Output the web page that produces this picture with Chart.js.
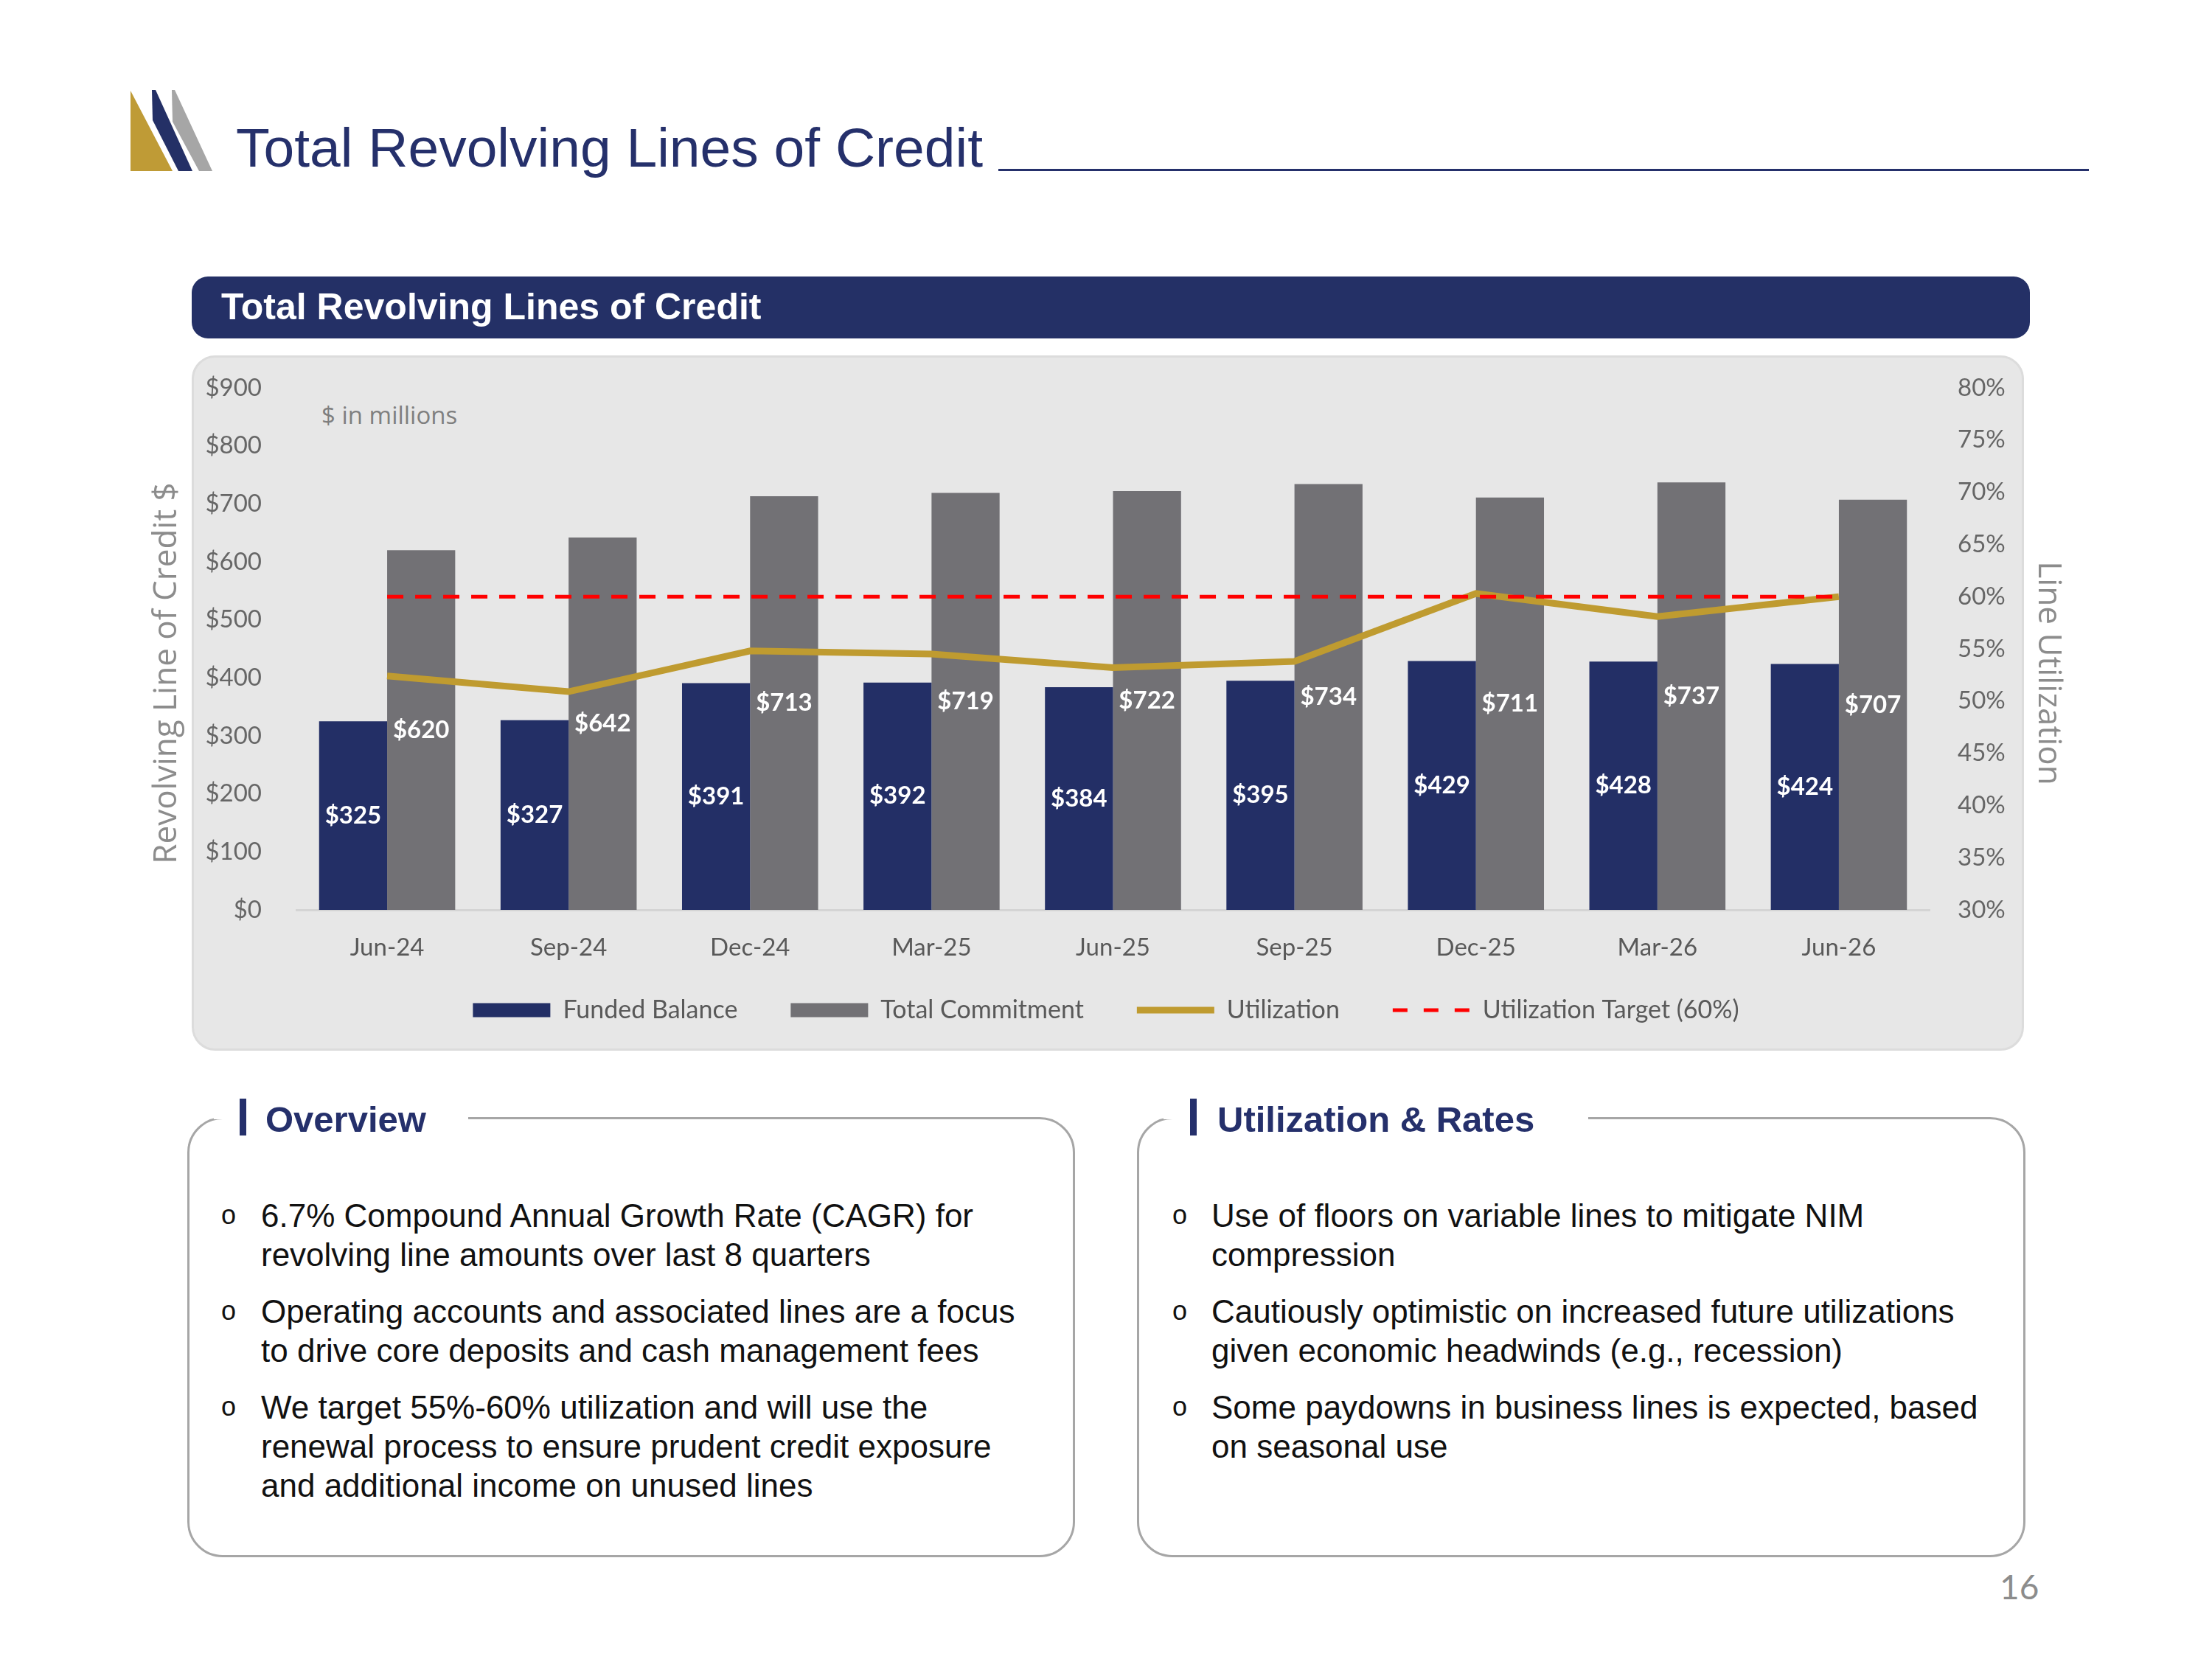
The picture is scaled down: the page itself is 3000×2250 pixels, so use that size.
<!DOCTYPE html>
<html>
<head>
<meta charset="utf-8">
<script src="https://cdn.jsdelivr.net/npm/chart.js@4"></script>
<style>
  html, body { margin: 0; padding: 0; background: #fff; }
  body { width: 3000px; height: 2250px; position: relative; overflow: hidden; font-family: "Liberation Sans", Arial, sans-serif; }
  .abs { position: absolute; }
  #title { left: 320px; top: 163px; font-size: 75px; color: #25306b; white-space: nowrap; line-height: 1; }
  #rule { left: 1354px; top: 229px; width: 1479px; height: 3px; background: #25306b; }
  #banner { left: 260px; top: 375px; width: 2493px; height: 84px; background: #243066; border-radius: 22px; }
  #banner span { position: absolute; left: 40px; top: 16px; font-size: 50px; font-weight: bold; color: #fff; line-height: 1; white-space: nowrap; }
  #panel { left: 260px; top: 482px; width: 2485px; height: 943px; background: #e7e7e7; border-radius: 32px; border: 3px solid #dcdcdc; box-sizing: border-box; }
  #units { left: 436px; top: 540px; font-family: "Open Sans", sans-serif; font-size: 33px; color: #7f7f7f; }
  #chartWrap { left: 180px; top: 482px; width: 2640px; height: 948px; }
  .box { border: 3px solid #a6a6a6; border-radius: 48px; box-sizing: border-box; }
  .gap { background: #fff; height: 10px; }
  .hbar { width: 9px; height: 50px; background: #25306b; }
  .head { font-size: 49px; font-weight: bold; color: #25306b; line-height: 1; white-space: nowrap; }
  .item { font-size: 44px; color: #111; line-height: 53px; }
  .bul { font-size: 36px; color: #111; }
  #page { left: 2712px; top: 2124px; font-family: Lato, sans-serif; font-size: 46px; color: #8c8c8c; }
</style>
</head>
<body>
<svg class="abs" style="left:0;top:0" width="320" height="260">
  <polygon points="177,123 177,232 234,232" fill="#bf9b36"/>
  <polygon points="206,122 211,122 261,232 242,232 207,163" fill="#243066"/>
  <polygon points="233,122 237,122 288,232 270,232 234,165" fill="#a6a6a6"/>
</svg>
<div id="title" class="abs">Total Revolving Lines of Credit</div>
<div id="rule" class="abs"></div>
<div id="banner" class="abs"><span>Total Revolving Lines of Credit</span></div>
<div id="panel" class="abs"></div>
<div id="units" class="abs">$ in millions</div>
<div id="chartWrap" class="abs"><canvas id="revolvingChart"></canvas></div>

<div class="abs box" style="left:254px;top:1515px;width:1204px;height:597px;"></div>
<div class="abs gap" style="left:290px;top:1508px;width:345px;"></div>
<div class="abs hbar" style="left:325px;top:1490px;"></div>
<div class="abs head" style="left:360px;top:1494px;">Overview</div>

<div class="abs box" style="left:1542px;top:1515px;width:1205px;height:597px;"></div>
<div class="abs gap" style="left:1578px;top:1508px;width:576px;"></div>
<div class="abs hbar" style="left:1614px;top:1490px;"></div>
<div class="abs head" style="left:1651px;top:1494px;">Utilization &amp; Rates</div>

<div class="abs bul" style="left:300px;top:1627px;">o</div>
<div class="abs item" style="left:354px;top:1622px;width:1080px;">6.7% Compound Annual Growth Rate (CAGR) for<br>revolving line amounts over last 8 quarters</div>
<div class="abs bul" style="left:300px;top:1757px;">o</div>
<div class="abs item" style="left:354px;top:1752px;width:1080px;">Operating accounts and associated lines are a focus<br>to drive core deposits and cash management fees</div>
<div class="abs bul" style="left:300px;top:1887px;">o</div>
<div class="abs item" style="left:354px;top:1882px;width:1080px;">We target 55%-60% utilization and will use the<br>renewal process to ensure prudent credit exposure<br>and additional income on unused lines</div>

<div class="abs bul" style="left:1590px;top:1627px;">o</div>
<div class="abs item" style="left:1643px;top:1622px;width:1080px;">Use of floors on variable lines to mitigate NIM<br>compression</div>
<div class="abs bul" style="left:1590px;top:1757px;">o</div>
<div class="abs item" style="left:1643px;top:1752px;width:1080px;">Cautiously optimistic on increased future utilizations<br>given economic headwinds (e.g., recession)</div>
<div class="abs bul" style="left:1590px;top:1887px;">o</div>
<div class="abs item" style="left:1643px;top:1882px;width:1080px;">Some paydowns in business lines is expected, based<br>on seasonal use</div>

<div id="page" class="abs">16</div>

<script>
// quarters and values ($ millions, utilization %)
const quarters = ['Jun-24', 'Sep-24', 'Dec-24', 'Mar-25', 'Jun-25', 'Sep-25', 'Dec-25', 'Mar-26', 'Jun-26'];
const fundedBalance = [325, 327, 391, 392, 384, 395, 429, 428, 424];
const totalCommitment = [620, 642, 713, 719, 722, 734, 711, 737, 707];
const utilization = [52.4, 50.9, 54.8, 54.5, 53.2, 53.8, 60.3, 58.1, 60.0];
const utilizationTarget = [60, 60, 60, 60, 60, 60, 60, 60, 60];
const dollarTicks = [0, 100, 200, 300, 400, 500, 600, 700, 800, 900];
const pctTicks = [30, 35, 40, 45, 50, 55, 60, 65, 70, 75, 80];

const NAVY = '#232f66';
const GRAY = '#727175';
const GOLD = '#bf9b30';
const RED = '#ff0000';
const TXT = '#666666';

// white value labels centered in each bar
const barLabels = {
    id: 'barLabels',
    afterDatasetsDraw(chart) {
        const ctx = chart.ctx;
        ctx.save();
        ctx.font = 'bold 33px Lato, sans-serif';
        ctx.fillStyle = '#ffffff';
        ctx.textAlign = 'center';
        ctx.textBaseline = 'middle';
        chart.data.datasets.forEach((ds, di) => {
            if (ds.type !== 'bar') return;
            chart.getDatasetMeta(di).data.forEach((bar, i) => {
                ctx.fillText('$' + ds.data[i], bar.x, (bar.y + bar.base) / 2);
            });
        });
        ctx.restore();
    }
};

// rotated axis titles, sitting a bit below the plot's middle like the original
const axisTitles = {
    id: 'axisTitles',
    afterDraw(chart) {
        const ctx = chart.ctx;
        const a = chart.chartArea;
        const yMid = (a.top + a.bottom) / 2 + 33;
        ctx.save();
        ctx.font = '44px "Open Sans", sans-serif';
        ctx.fillStyle = '#8c8c8c';
        ctx.textAlign = 'center';
        ctx.textBaseline = 'middle';
        ctx.save();
        ctx.translate(46, yMid);
        ctx.rotate(-Math.PI / 2);
        ctx.fillText('Revolving Line of Credit $', 0, 0);
        ctx.restore();
        ctx.translate(2598, yMid);
        ctx.rotate(Math.PI / 2);
        ctx.fillText('Line Utilization', 0, 0);
        ctx.restore();
    }
};

// pull the legend up closer to the category labels
const legendShift = {
    id: 'legendShift',
    afterLayout(chart) {
        const lg = chart.legend;
        const d = lg.top - (chart.chartArea.bottom + 47);
        lg.top -= d;
        lg.bottom -= d;
    }
};

const canvas = document.getElementById('revolvingChart');

new Chart(canvas.getContext('2d'), {
    data: {
        labels: quarters,
        datasets: [
            {
                type: 'line',
                label: 'Utilization Target (60%)',
                data: utilizationTarget,
                yAxisID: 'yPct',
                borderColor: RED,
                backgroundColor: RED,
                borderWidth: 5,
                borderDash: [22, 16],
                pointRadius: 0,
                order: 0
            },
            {
                type: 'line',
                label: 'Utilization',
                data: utilization,
                yAxisID: 'yPct',
                borderColor: GOLD,
                backgroundColor: GOLD,
                borderWidth: 9,
                pointRadius: 0,
                tension: 0,
                order: 1
            },
            {
                type: 'bar',
                label: 'Funded Balance',
                data: fundedBalance,
                yAxisID: 'y',
                backgroundColor: NAVY,
                categoryPercentage: 0.75,
                barPercentage: 1.0,
                order: 3
            },
            {
                type: 'bar',
                label: 'Total Commitment',
                data: totalCommitment,
                yAxisID: 'y',
                backgroundColor: GRAY,
                categoryPercentage: 0.75,
                barPercentage: 1.0,
                order: 3
            }
        ]
    },
    options: {
        responsive: true,
        maintainAspectRatio: false,
        animation: false,
        layout: { padding: { top: 44, left: 0, right: 0, bottom: 0 } },
        plugins: {
            legend: {
                position: 'bottom',
                labels: {
                    font: { family: 'Lato, sans-serif', size: 34 },
                    color: '#595959',
                    usePointStyle: true,
                    pointStyleWidth: 105,
                    boxHeight: 19,
                    padding: 72,
                    sort: (a, b) => {
                        const want = ['Funded Balance', 'Total Commitment', 'Utilization', 'Utilization Target (60%)'];
                        return want.indexOf(a.text) - want.indexOf(b.text);
                    },
                    generateLabels: chart => Chart.defaults.plugins.legend.labels.generateLabels(chart).map(l => {
                        const isBar = l.text === 'Funded Balance' || l.text === 'Total Commitment';
                        l.pointStyle = isBar ? 'rect' : 'line';
                        if (isBar) { l.lineWidth = 0; }
                        if (l.text === 'Utilization Target (60%)') { l.lineDash = [20, 22]; l.lineDashOffset = 0; }
                        return l;
                    })
                }
            },
            tooltip: { enabled: false },
            title: { display: false }
        },
        scales: {
            x: {
                grid: { display: false },
                border: { display: true, color: '#d4d4d4', width: 3 },
                ticks: { color: '#595959', font: { family: 'Lato, sans-serif', size: 33 }, padding: 24 },
                afterFit: s => { s.height = 80; }
            },
            y: {
                position: 'left',
                min: 0,
                max: 900,
                afterBuildTicks: s => { s.ticks = dollarTicks.map(v => ({ value: v })); },
                grid: { display: false },
                border: { display: false },
                ticks: {
                    color: TXT,
                    padding: 39,
                    font: { family: 'Lato, sans-serif', size: 33 },
                    callback: v => '$' + v
                },
                afterFit: s => { s.width = 222; s.paddingTop = 0; s.paddingBottom = 0; }
            },
            yPct: {
                position: 'right',
                min: 30,
                max: 80,
                afterBuildTicks: s => { s.ticks = pctTicks.map(v => ({ value: v })); },
                grid: { display: false },
                border: { display: false },
                ticks: {
                    color: TXT,
                    padding: 30,
                    font: { family: 'Lato, sans-serif', size: 33 },
                    callback: v => v + '%'
                },
                afterFit: s => { s.width = 203; s.paddingTop = 0; s.paddingBottom = 0; }
            }
        }
    },
    plugins: [barLabels, axisTitles, legendShift]
});
</script>
</body>
</html>
